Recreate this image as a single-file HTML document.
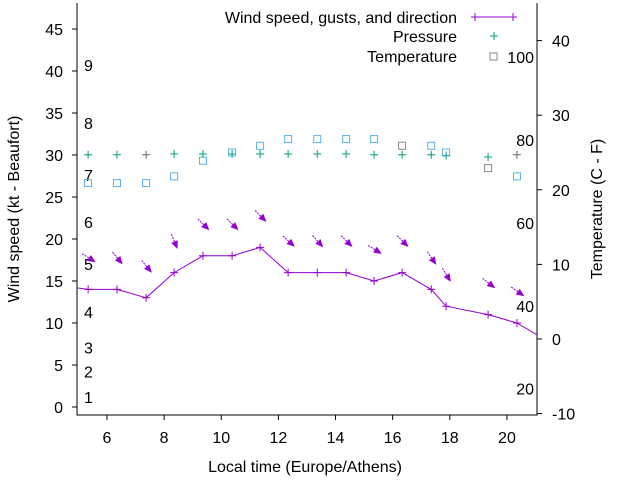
<!DOCTYPE html>
<html><head><meta charset="utf-8"><style>
html,body{margin:0;padding:0;background:#fff}
svg text{font-family:"Liberation Sans",sans-serif;font-size:16px;fill:#000}
</style></head><body>
<svg id="chart" width="640" height="480" xmlns="http://www.w3.org/2000/svg"></svg>
<script>
const times=[5.34,6.35,7.37,8.35,9.36,10.38,11.36,12.34,13.36,14.37,15.35,16.33,17.35,17.87,19.34,20.35];
const windSpeed=[14,14,13,16,18,18,19,16,16,16,15,16,14,12,11,10];
const windDir=[32,50,50,68,45,45,45,42,48,45,32,45,55,58,38,35];
const pressure=[24.7,24.7,24.7,24.8,24.8,24.8,24.8,24.8,24.8,24.8,24.7,24.7,24.7,24.6,24.4,24.7];
const temperature=[20.9,20.9,20.9,21.8,23.9,25,25.9,26.8,26.8,26.8,26.8,25.9,25.9,25,22.9,21.8];
const leftTicks=[0,5,10,15,20,25,30,35,40,45];
const rightTicks=[-10,0,10,20,30,40];
const xTicks=[6,8,10,12,14,16,18,20];
const beaufortNums=[1,2,3,4,5,6,7,8,9];
const beaufortKt=[1.2,4.2,7.1,11.3,17,22,27.6,33.8,40.7];
const fahrenheit=[20,40,60,80,100];

const NS="http://www.w3.org/2000/svg";
const svg=document.getElementById('chart');
const L=77,R=537,B=415,T=3;
const X=h=>78.4+(h-5)*28.57;
const YL=v=>407-v*8.4;
const YR=v=>339-v*7.46;
const YF=f=>YR((f-32)*5/9);
function mk(tag,attrs,parent){const e=document.createElementNS(NS,tag);for(const k in attrs)e.setAttribute(k,attrs[k]);(parent||svg).appendChild(e);return e;}

const clip=mk('clipPath',{id:'pc'});mk('rect',{x:L,y:T,width:R-L,height:B-T},clip);

const axes=mk('path',{d:`M${L},${T}V${B}H${R}V${T}`,stroke:'#000',fill:'none','stroke-width':1});


leftTicks.forEach(v=>{
  mk('line',{x1:L-5,x2:L,y1:YL(v),y2:YL(v),stroke:'#000'});
  const t=mk('text',{x:63,y:YL(v)+6,'text-anchor':'end'});t.textContent=v;
  
  
});
rightTicks.forEach(v=>{
  mk('line',{x1:R,x2:R+5,y1:YR(v),y2:YR(v),stroke:'#000'});
  const t=mk('text',{x:552,y:YR(v)+6});t.textContent=v;
  
  
});
xTicks.forEach(v=>{
  mk('line',{x1:X(v),x2:X(v),y1:B,y2:B+5,stroke:'#000'});
  const t=mk('text',{x:X(v),y:443,'text-anchor':'middle'});t.textContent=v;
  
  
});
beaufortNums.forEach((n,i)=>{
  const t=mk('text',{x:84,y:YL(beaufortKt[i])+6});t.textContent=n;
  
  
});
fahrenheit.forEach(f=>{
  const t=mk('text',{x:534,y:YF(f)+6,'text-anchor':'end'});t.textContent=f;
  
  
});

let t=mk('text',{x:305,y:472,'text-anchor':'middle'});t.textContent='Local time (Europe/Athens)';

t=mk('text',{x:0,y:0,'text-anchor':'middle',transform:'translate(19,209) rotate(-90)'});t.textContent='Wind speed (kt - Beaufort)';

t=mk('text',{x:0,y:0,'text-anchor':'middle',transform:'translate(602,209) rotate(-90)'});t.textContent='Temperature (C - F)';


const g=mk('g',{'clip-path':'url(#pc)'});
let d='M'+X(4.9)+','+YL(14.2);
times.forEach((h,i)=>d+='L'+X(h)+','+YL(windSpeed[i]));
d+='L'+X(21.2)+','+YL(8.3);
const wl=mk('path',{d,stroke:'#9400d3',fill:'none','stroke-width':1},g);


times.forEach((h,i)=>{
  const x=X(h),y=YL(windSpeed[i]);
  const p=mk('path',{d:`M${x-4},${y}h8M${x},${y-4}v8`,stroke:'#9400d3'},g);
  
  
  const a=windDir[i]*Math.PI/180, cx=x, cy=YL(windSpeed[i]+3.8);
  const dx=Math.cos(a)*7,dy=Math.sin(a)*7;
  const x1=cx-dx,y1=cy-dy,x2=cx+dx,y2=cy+dy;
  const ag=mk('g',{},g);
  
  
  mk('line',{x1,y1,x2,y2,stroke:'#9400d3','stroke-dasharray':'2,1'},ag);
  const ux=dx/7,uy=dy/7;
  mk('polygon',{points:`${x2+ux*2},${y2+uy*2} ${x2-ux*6-uy*3.5},${y2-uy*6+ux*3.5} ${x2-ux*6+uy*3.5},${y2-uy*6-ux*3.5}`,fill:'#9400d3'},ag);
});
times.forEach((h,i)=>{
  const x=X(h),y=YR(pressure[i]);
  const p=mk('path',{d:`M${x-4},${y}h8M${x},${y-4}v8`,stroke:(i==2||i==15)?'#666':'#009e73'},g);
  
  
});
times.forEach((h,i)=>{
  const x=X(h),y=YR(temperature[i]);
  const r=mk('rect',{x:x-3.5,y:y-3.5,width:7,height:7,fill:'none',stroke:(i==11||i==14)?'#888':'#56b4e9'},g);
  
  
});

const lg=mk('g',{});


[['Wind speed, gusts, and direction',23],['Pressure',42],['Temperature',62]].forEach(([s,y])=>{
  const tx=mk('text',{x:457,y,'text-anchor':'end'},lg);tx.textContent=s;
  
  
});
mk('path',{d:'M471,17H517M475,13v8M513,13v8',stroke:'#9400d3'},lg);
mk('path',{d:'M490,36h8M494,32v8',stroke:'#009e73'},lg);
mk('rect',{x:490,y:53,width:7,height:7,fill:'none',stroke:'#888'},lg);
</script>
</body></html>
